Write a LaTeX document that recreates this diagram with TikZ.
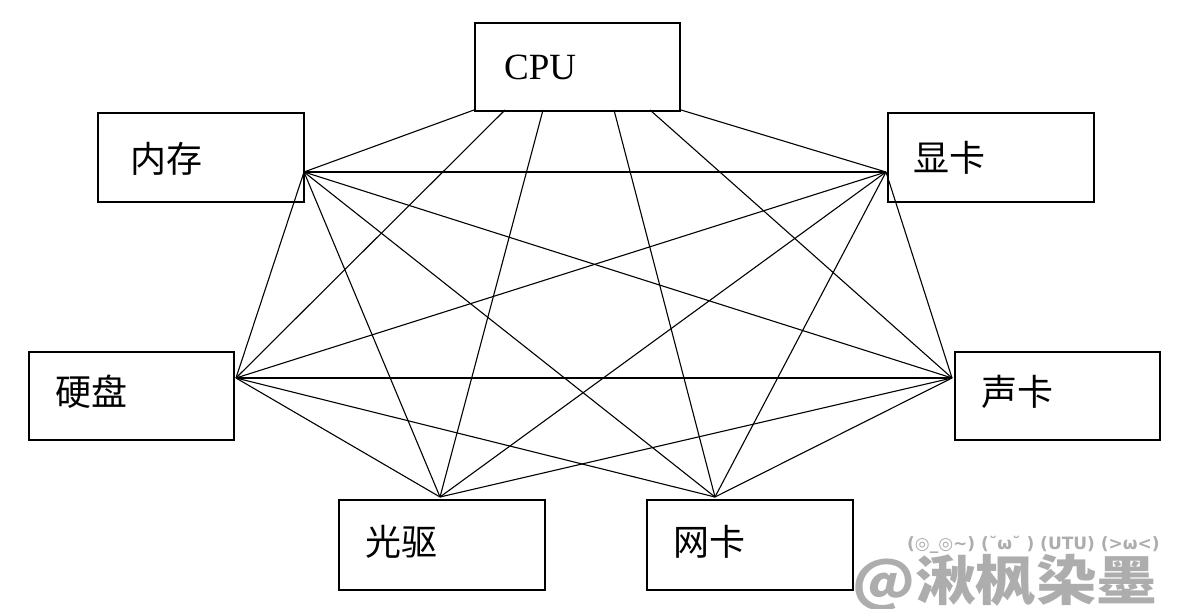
\documentclass[tikz,border=0pt]{standalone}
\usepackage{fontspec}
\setmainfont{Liberation Serif}
\newfontfamily\cjk{Noto Sans CJK SC}
\newfontfamily\kao{DejaVu Sans}
\begin{document}
\begin{tikzpicture}[x=1pt,y=-1pt,
  box/.style={draw=black,line width=1.6pt,inner sep=0pt,anchor=north west},
  lbl/.style={anchor=west,inner sep=0pt,font=\cjk\fontsize{36}{36}\selectfont},
  link/.style={draw=black,line width=1.1pt}]
\useasboundingbox (0,0) rectangle (1186,609);
\fill[white] (0,0) rectangle (1186,609);
% boxes
\node[box,minimum width=205pt,minimum height=88pt] (cpu) at (474,22) {};
\node[box,minimum width=206pt,minimum height=89pt] (mem) at (97,112) {};
\node[box,minimum width=206pt,minimum height=89pt] (gpu) at (887,112) {};
\node[box,minimum width=205pt,minimum height=88pt] (hdd) at (28,351) {};
\node[box,minimum width=205pt,minimum height=88pt] (snd) at (954,351) {};
\node[box,minimum width=206pt,minimum height=90pt] (odd) at (338,499) {};
\node[box,minimum width=206pt,minimum height=90pt] (nic) at (646,499) {};
% labels
\node[anchor=west,inner sep=0pt,font=\fontsize{37}{37}\selectfont] (tcpu) at (504,67) {CPU};
\node[lbl] (tmem) at (130,159) {内存};
\node[lbl] (tgpu) at (913,158) {显卡};
\node[lbl] (thdd) at (55,392) {硬盘};
\node[lbl] (tsnd) at (981,392) {声卡};
\node[lbl] (todd) at (365,542) {光驱};
\node[lbl] (tnic) at (673,542) {网卡};
% connection points
\coordinate (c1) at (474,110);
\coordinate (c2) at (505,110);
\coordinate (c3) at (543,110);
\coordinate (c4) at (614,110);
\coordinate (c5) at (650,110);
\coordinate (c6) at (681,110);
\coordinate (pm) at (304,172);
\coordinate (px) at (886,172);
\coordinate (ph) at (236,378);
\coordinate (ps) at (952,378);
\coordinate (pg) at (440,497);
\coordinate (pw) at (715,497);
% CPU links
\draw[link] (c1) -- (pm);
\draw[link] (c2) -- (ph);
\draw[link] (c3) -- (pg);
\draw[link] (c4) -- (pw);
\draw[link] (c5) -- (ps);
\draw[link] (c6) -- (px);
% other pairs (no link between the two bottom boxes)
\foreach \a/\b in {pm/px,pm/ph,pm/ps,pm/pg,pm/pw,px/ph,px/ps,px/pg,px/pw,ph/ps,ph/pg,ph/pw,ps/pg,ps/pw}
  \draw[link] (\a) -- (\b);
% watermark
\node[anchor=west,inner sep=0pt,text=black!32,font=\kao\bfseries\fontsize{17}{17}\selectfont] (wm1) at (907,545) {(◎\_◎\textasciitilde) (˘ω˘ ) (UTU) (>ω<)};
\node[anchor=west,inner sep=0pt,text=black!32,font=\cjk\bfseries\fontsize{54}{54}\selectfont] (wm2) at (852,583) {\scalebox{1.12}[1]{@湫枫染墨}};
\end{tikzpicture}
\end{document}
